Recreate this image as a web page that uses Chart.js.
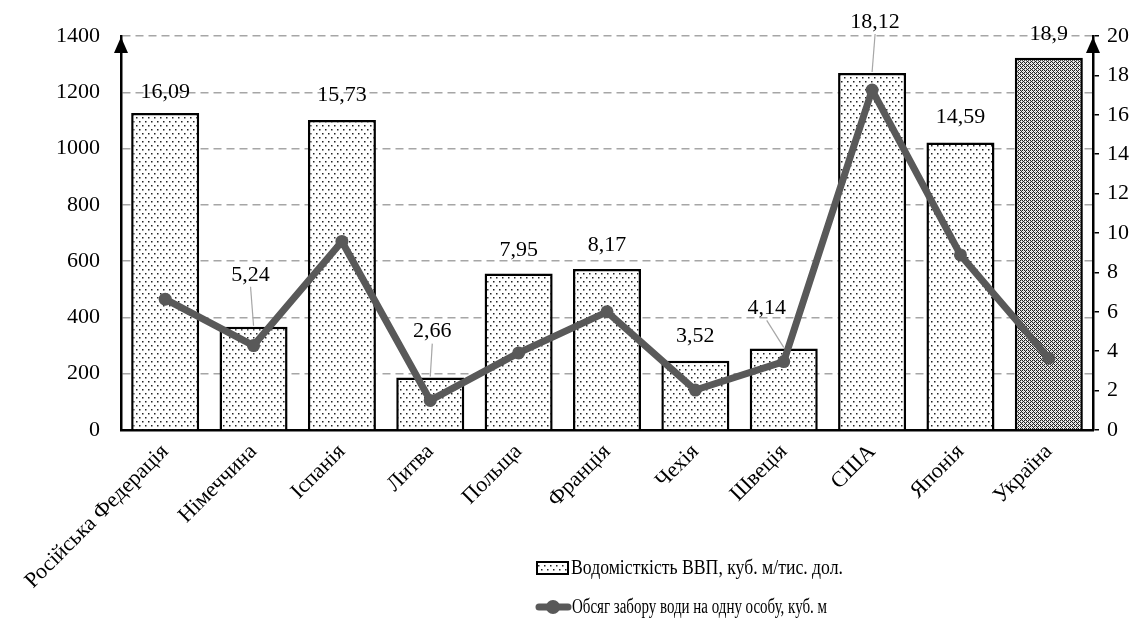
<!DOCTYPE html>
<html><head><meta charset="utf-8">
<script src="https://cdn.jsdelivr.net/npm/chart.js@4.4.0/dist/chart.umd.min.js"></script>
<style>html,body{margin:0;padding:0;background:#fff}#wrap{width:1137px;height:621px;position:relative}</style>
</head><body><div id="wrap"><canvas id="c" width="1137" height="621"></canvas></div>
<script>
const categories = ['Російська Федерація','Німеччина','Іспанія','Литва','Польща','Франція','Чехія','Швеція','США','Японія','Україна'];
const waterIntensity = [16.09, 5.24, 15.73, 2.66, 7.95, 8.17, 3.52, 4.14, 18.12, 14.59, 18.9];
const intensityLabels = ['16,09','5,24','15,73','2,66','7,95','8,17','3,52','4,14','18,12','14,59','18,9'];
const withdrawalPerCapita = [465, 300, 670, 105, 274, 420, 142, 243, 1208, 622, 255];
const leftTicks = [0, 200, 400, 600, 800, 1000, 1200, 1400];
const rightTicks = [0, 2, 4, 6, 8, 10, 12, 14, 16, 18, 20];
const seriesNames = ['Водомісткість ВВП, куб. м/тис. дол.', 'Обсяг забору води на одну особу, куб. м'];

// label placement (pixels above bar top, x shift) and leader lines
const labelLift = [21, 52, 25, 46, 23, 24, 24, 40, 51, 25, 23];
const labelShift = [0, -3, 0, 2, 0, 0, 0, -17, 3, 0, 0];
const leader = [false, true, false, true, false, false, false, true, true, false, false];
const legendTextWidths = [272, 255];

const FONT = '"Liberation Serif", "Times New Roman", serif';

function dotPattern() {
  const c = document.createElement('canvas'); c.width = 6; c.height = 8;
  const x = c.getContext('2d');
  x.fillStyle = '#fff'; x.fillRect(0, 0, 6, 8);
  x.fillStyle = '#222';
  x.fillRect(1, 1, 1.5, 1.5); x.fillRect(4, 5, 1.5, 1.5);
  return x.createPattern(c, 'repeat');
}
function meshPattern() {
  const c = document.createElement('canvas'); c.width = 4; c.height = 4;
  const x = c.getContext('2d');
  x.fillStyle = '#fff'; x.fillRect(0, 0, 4, 4);
  const cells = [
    ['#222','#bbb','#222','#fff'],
    ['#bbb','#fff','#bbb','#222'],
    ['#222','#bbb','#222','#fff'],
    ['#fff','#222','#fff','#bbb']];
  for (let r = 0; r < 4; r++) for (let q = 0; q < 4; q++) { x.fillStyle = cells[r][q]; x.fillRect(q, r, 1, 1); }
  return x.createPattern(c, 'repeat');
}
const dots = dotPattern();
const mesh = meshPattern();
const barFills = categories.map((_, i) => i === categories.length - 1 ? mesh : dots);

const extras = {
  id: 'extras',
  afterDatasetsDraw(chart) {
    const ctx = chart.ctx;
    const meta = chart.getDatasetMeta(0);
    ctx.save();
    ctx.font = '22px ' + FONT;
    ctx.fillStyle = '#000';
    ctx.textAlign = 'center';
    ctx.textBaseline = 'middle';
    meta.data.forEach((bar, i) => {
      const lx = bar.x + labelShift[i];
      const ly = bar.y - labelLift[i];
      if (leader[i]) {
        ctx.strokeStyle = '#a6a6a6'; ctx.lineWidth = 1.2;
        ctx.beginPath(); ctx.moveTo(lx, ly + 12); ctx.lineTo(bar.x, bar.y - 1); ctx.stroke();
      }
      ctx.fillText(intensityLabels[i], lx, ly);
    });
    ctx.restore();
  },
  afterDraw(chart) {
    const ctx = chart.ctx;
    const a = chart.chartArea;
    ctx.save();
    ctx.fillStyle = '#000';
    [a.left, a.right].forEach(x => {
      ctx.beginPath();
      ctx.moveTo(x, a.top + 1);
      ctx.lineTo(x - 7, a.top + 17);
      ctx.lineTo(x + 7, a.top + 17);
      ctx.closePath(); ctx.fill();
    });
    // legend
    const lx = 537;
    const y1 = 568, y2 = 607;
    ctx.fillStyle = dots; ctx.fillRect(lx, y1 - 6, 31, 12);
    ctx.strokeStyle = '#000'; ctx.lineWidth = 2; ctx.strokeRect(lx, y1 - 6, 31, 12);
    ctx.strokeStyle = '#595959'; ctx.lineWidth = 7; ctx.lineCap = 'round';
    ctx.beginPath(); ctx.moveTo(lx + 2, y2); ctx.lineTo(lx + 31, y2); ctx.stroke();
    ctx.fillStyle = '#595959'; ctx.beginPath(); ctx.arc(lx + 16, y2, 7, 0, Math.PI * 2); ctx.fill();
    ctx.fillStyle = '#000';
    ctx.font = '20px ' + FONT; ctx.textAlign = 'left'; ctx.textBaseline = 'middle';
    ctx.fillText(seriesNames[0], lx + 34, y1 + 1, legendTextWidths[0]);
    ctx.fillText(seriesNames[1], lx + 35, y2 + 1, legendTextWidths[1]);
    ctx.restore();
  }
};

new Chart(document.getElementById('c'), {
  data: {
    labels: categories,
    datasets: [
      {
        type: 'bar', label: seriesNames[0], data: waterIntensity, yAxisID: 'y1', order: 2,
        backgroundColor: barFills, borderColor: '#000', borderWidth: 2.5,
        categoryPercentage: 1, barPercentage: 0.77
      },
      {
        type: 'line', label: seriesNames[1], data: withdrawalPerCapita, yAxisID: 'y', order: 1,
        borderColor: '#595959', backgroundColor: '#595959', borderWidth: 7,
        pointRadius: 6.5, pointHoverRadius: 6.5, pointBackgroundColor: '#595959', pointBorderWidth: 0,
        tension: 0, borderJoinStyle: 'round'
      }
    ]
  },
  options: {
    responsive: false, animation: false, maintainAspectRatio: false,
    layout: { padding: { top: 36, left: 0, right: 0, bottom: 0 } },
    plugins: { legend: { display: false }, tooltip: { enabled: false } },
    scales: {
      x: {
        type: 'category', offset: true,
        grid: { display: false, drawTicks: false },
        border: { display: true, color: '#000', width: 2.5 },
        ticks: { color: '#000', font: { family: FONT, size: 22 }, minRotation: 45, maxRotation: 45, padding: 9, autoSkip: false },
        afterFit(s) { s.height = 191; }
      },
      y: {
        position: 'left', min: 0, max: 1400,
        afterBuildTicks(s) { s.ticks = leftTicks.map(v => ({ value: v })); },
        grid: { color: '#a6a6a6', lineWidth: 1.5, drawTicks: false },
        border: { display: true, color: '#000', width: 2.5, dash: [8, 5] },
        ticks: { color: '#000', font: { family: FONT, size: 22 }, padding: 21, callback: v => String(v) },
        afterFit(s) { s.width = 121; }
      },
      y1: {
        position: 'right', min: 0, max: 20,
        afterBuildTicks(s) { s.ticks = rightTicks.map(v => ({ value: v })); },
        grid: { drawOnChartArea: false, drawTicks: true, tickLength: 6, color: '#000', lineWidth: 1.5 },
        border: { display: true, color: '#000', width: 2.5 },
        ticks: { color: '#000', font: { family: FONT, size: 22 }, padding: 8, callback: v => String(v) },
        afterFit(s) { s.width = 44; }
      }
    }
  },
  plugins: [extras]
});
</script>
</body></html>
